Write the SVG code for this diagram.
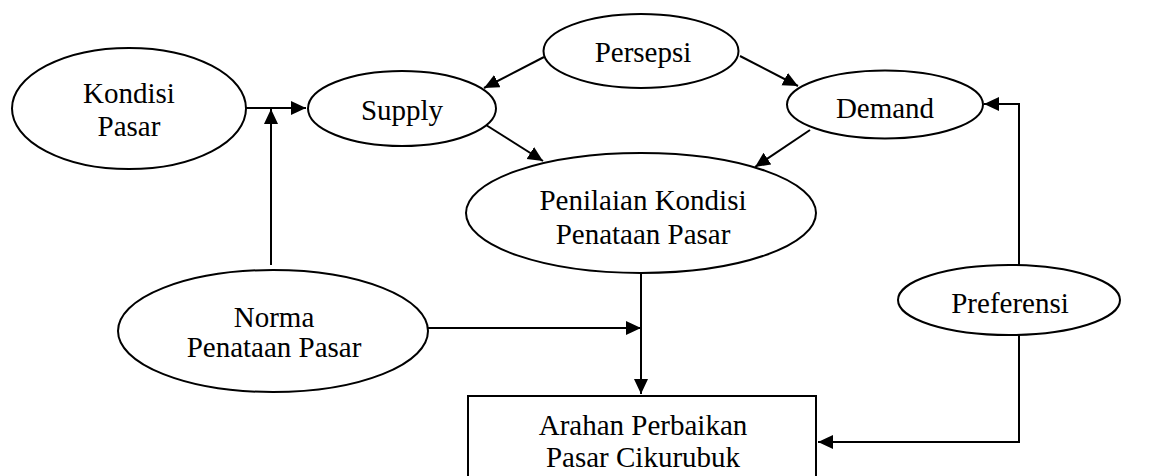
<svg xmlns="http://www.w3.org/2000/svg" width="1150" height="476" viewBox="0 0 1150 476">
<defs>
<style>
.n{fill:#fff;stroke:#000;stroke-width:2}
.t{font-family:"Liberation Serif","Times New Roman",serif;font-size:29px;fill:#000;text-anchor:middle}
.c{fill:none;stroke:#000;stroke-width:2}
</style>
<marker id="ah" markerUnits="userSpaceOnUse" markerWidth="16" markerHeight="16" refX="15" refY="7" orient="auto">
<path d="M0,0 L15,7 L0,14 z" fill="#000"/>
</marker>
</defs>
<rect width="1150" height="476" fill="#fff"/>
<g id="connectors">
<path class="c" d="M246,108 L306,108" marker-end="url(#ah)"/>
<path class="c" d="M271,265 L271,109" marker-end="url(#ah)"/>
<path class="c" d="M544,57 L484,88" marker-end="url(#ah)"/>
<path class="c" d="M486,125 L543,161" marker-end="url(#ah)"/>
<path class="c" d="M740,56 L798,86" marker-end="url(#ah)"/>
<path class="c" d="M810,130 L755,167" marker-end="url(#ah)"/>
<path class="c" d="M1019,265 L1019,104 L984,104" marker-end="url(#ah)"/>
<path class="c" d="M641,273 L641,394" marker-end="url(#ah)"/>
<path class="c" d="M428,328 L641,328" marker-end="url(#ah)"/>
<path class="c" d="M1019,335 L1019,442 L818,442" marker-end="url(#ah)"/>
</g>
<g id="kondisi">
<ellipse class="n" cx="129" cy="108.5" rx="117" ry="60.5"/>
<text class="t" x="129" y="103">Kondisi</text>
<text class="t" x="129" y="136">Pasar</text>
</g>
<g id="supply">
<ellipse class="n" cx="402" cy="108.5" rx="94" ry="37.5"/>
<text class="t" x="402" y="120">Supply</text>
</g>
<g id="persepsi">
<ellipse class="n" cx="641" cy="51" rx="97.5" ry="37"/>
<text class="t" x="643" y="62">Persepsi</text>
</g>
<g id="demand">
<ellipse class="n" cx="885" cy="104.5" rx="98" ry="34"/>
<text class="t" x="885" y="118">Demand</text>
</g>
<g id="penilaian">
<ellipse class="n" cx="641" cy="213" rx="175" ry="60"/>
<text class="t" x="643" y="210">Penilaian Kondisi</text>
<text class="t" x="643" y="244">Penataan Pasar</text>
</g>
<g id="norma">
<ellipse class="n" cx="273" cy="331" rx="155" ry="61"/>
<text class="t" x="274" y="327">Norma</text>
<text class="t" x="274" y="357">Penataan Pasar</text>
</g>
<g id="preferensi">
<ellipse class="n" cx="1009" cy="300" rx="111" ry="35"/>
<text class="t" x="1010" y="313">Preferensi</text>
</g>
<g id="arahan">
<rect class="n" x="468" y="396" width="348" height="90" stroke-width="1.5"/>
<text class="t" x="643" y="435">Arahan Perbaikan</text>
<text class="t" x="643" y="467">Pasar Cikurubuk</text>
</g>
</svg>
